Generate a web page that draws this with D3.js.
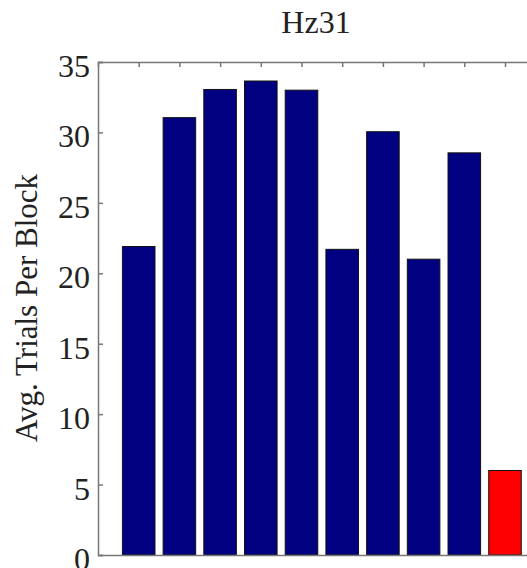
<!DOCTYPE html>
<html>
<head>
<meta charset="utf-8">
<script src="https://cdn.jsdelivr.net/npm/d3@7"></script>
<style>
  html, body { margin: 0; padding: 0; background: #fff; }
  svg { display: block; }
  text { font-family: "Liberation Serif", "Times New Roman", serif; fill: #222; }
</style>
</head>
<body>
<svg id="chart" width="527" height="568"></svg>
<script>
// Average trials per block, one bar per condition
const conditions = [1, 2, 3, 4, 5, 6, 7, 8, 9, 10];
const trialsPerBlock = [21.9, 31.05, 33.05, 33.65, 33.0, 21.7, 30.05, 21.0, 28.55, 6.0];
const barColors = ["#000080", "#000080", "#000080", "#000080", "#000080",
                   "#000080", "#000080", "#000080", "#000080", "#ff0000"];
const yTicks = [0, 5, 10, 15, 20, 25, 30, 35];
const chartTitle = "Hz31";
const yLabel = "Avg. Trials Per Block";

const svg = d3.select("#chart");
const plotLeft = 98, plotTop = 62, plotBottom = 555;
const step = 40.7;

const x = d3.scaleLinear().domain([0, conditions.length + 1])
  .range([plotLeft, plotLeft + step * (conditions.length + 1)]);
const y = d3.scaleLinear().domain([0, 35]).range([plotBottom, plotTop]);

const barW = x(0.8) - x(0);

// bars
svg.append("g").selectAll("rect")
  .data(conditions)
  .join("rect")
  .attr("x", (d) => x(d) - barW / 2)
  .attr("y", (d, i) => y(trialsPerBlock[i]))
  .attr("width", barW)
  .attr("height", (d, i) => y(0) - y(trialsPerBlock[i]))
  .attr("fill", (d, i) => barColors[i])
  .attr("stroke", "#111")
  .attr("stroke-width", 1);

const axisColor = "#777";

// left axis with inward ticks
const yAxis = svg.append("g")
  .attr("transform", `translate(${plotLeft},0)`)
  .call(d3.axisRight(y).tickValues(yTicks).tickSize(5).tickFormat(""));
yAxis.select(".domain").attr("stroke", axisColor).attr("stroke-width", 1.5);
yAxis.selectAll(".tick line").attr("stroke", axisColor).attr("stroke-width", 1.5);

svg.append("g").selectAll("text")
  .data(yTicks)
  .join("text")
  .attr("x", plotLeft - 8)
  .attr("y", (d) => y(d) + 15)
  .attr("text-anchor", "end")
  .attr("font-size", 32)
  .text((d) => d);

// top axis with inward ticks at bar positions
const xTop = svg.append("g")
  .attr("transform", `translate(0,${plotTop})`)
  .call(d3.axisBottom(x).tickValues(conditions).tickSize(5).tickFormat(""));
xTop.select(".domain").attr("stroke", axisColor).attr("stroke-width", 1.5);
xTop.selectAll(".tick line").attr("stroke", axisColor).attr("stroke-width", 1.5);

// bottom axis line
const xBottom = svg.append("g")
  .attr("transform", `translate(0,${plotBottom})`)
  .call(d3.axisTop(x).tickValues(conditions).tickSize(0).tickFormat(""));
xBottom.select(".domain").attr("stroke", axisColor).attr("stroke-width", 1.5);

// title
svg.append("text")
  .attr("x", 316)
  .attr("y", 33)
  .attr("text-anchor", "middle")
  .attr("font-size", 32)
  .text(chartTitle);

// y-axis label
svg.append("text")
  .attr("transform", `translate(37,308) rotate(-90)`)
  .attr("text-anchor", "middle")
  .attr("font-size", 31)
  .text(yLabel);
</script>
</body>
</html>
